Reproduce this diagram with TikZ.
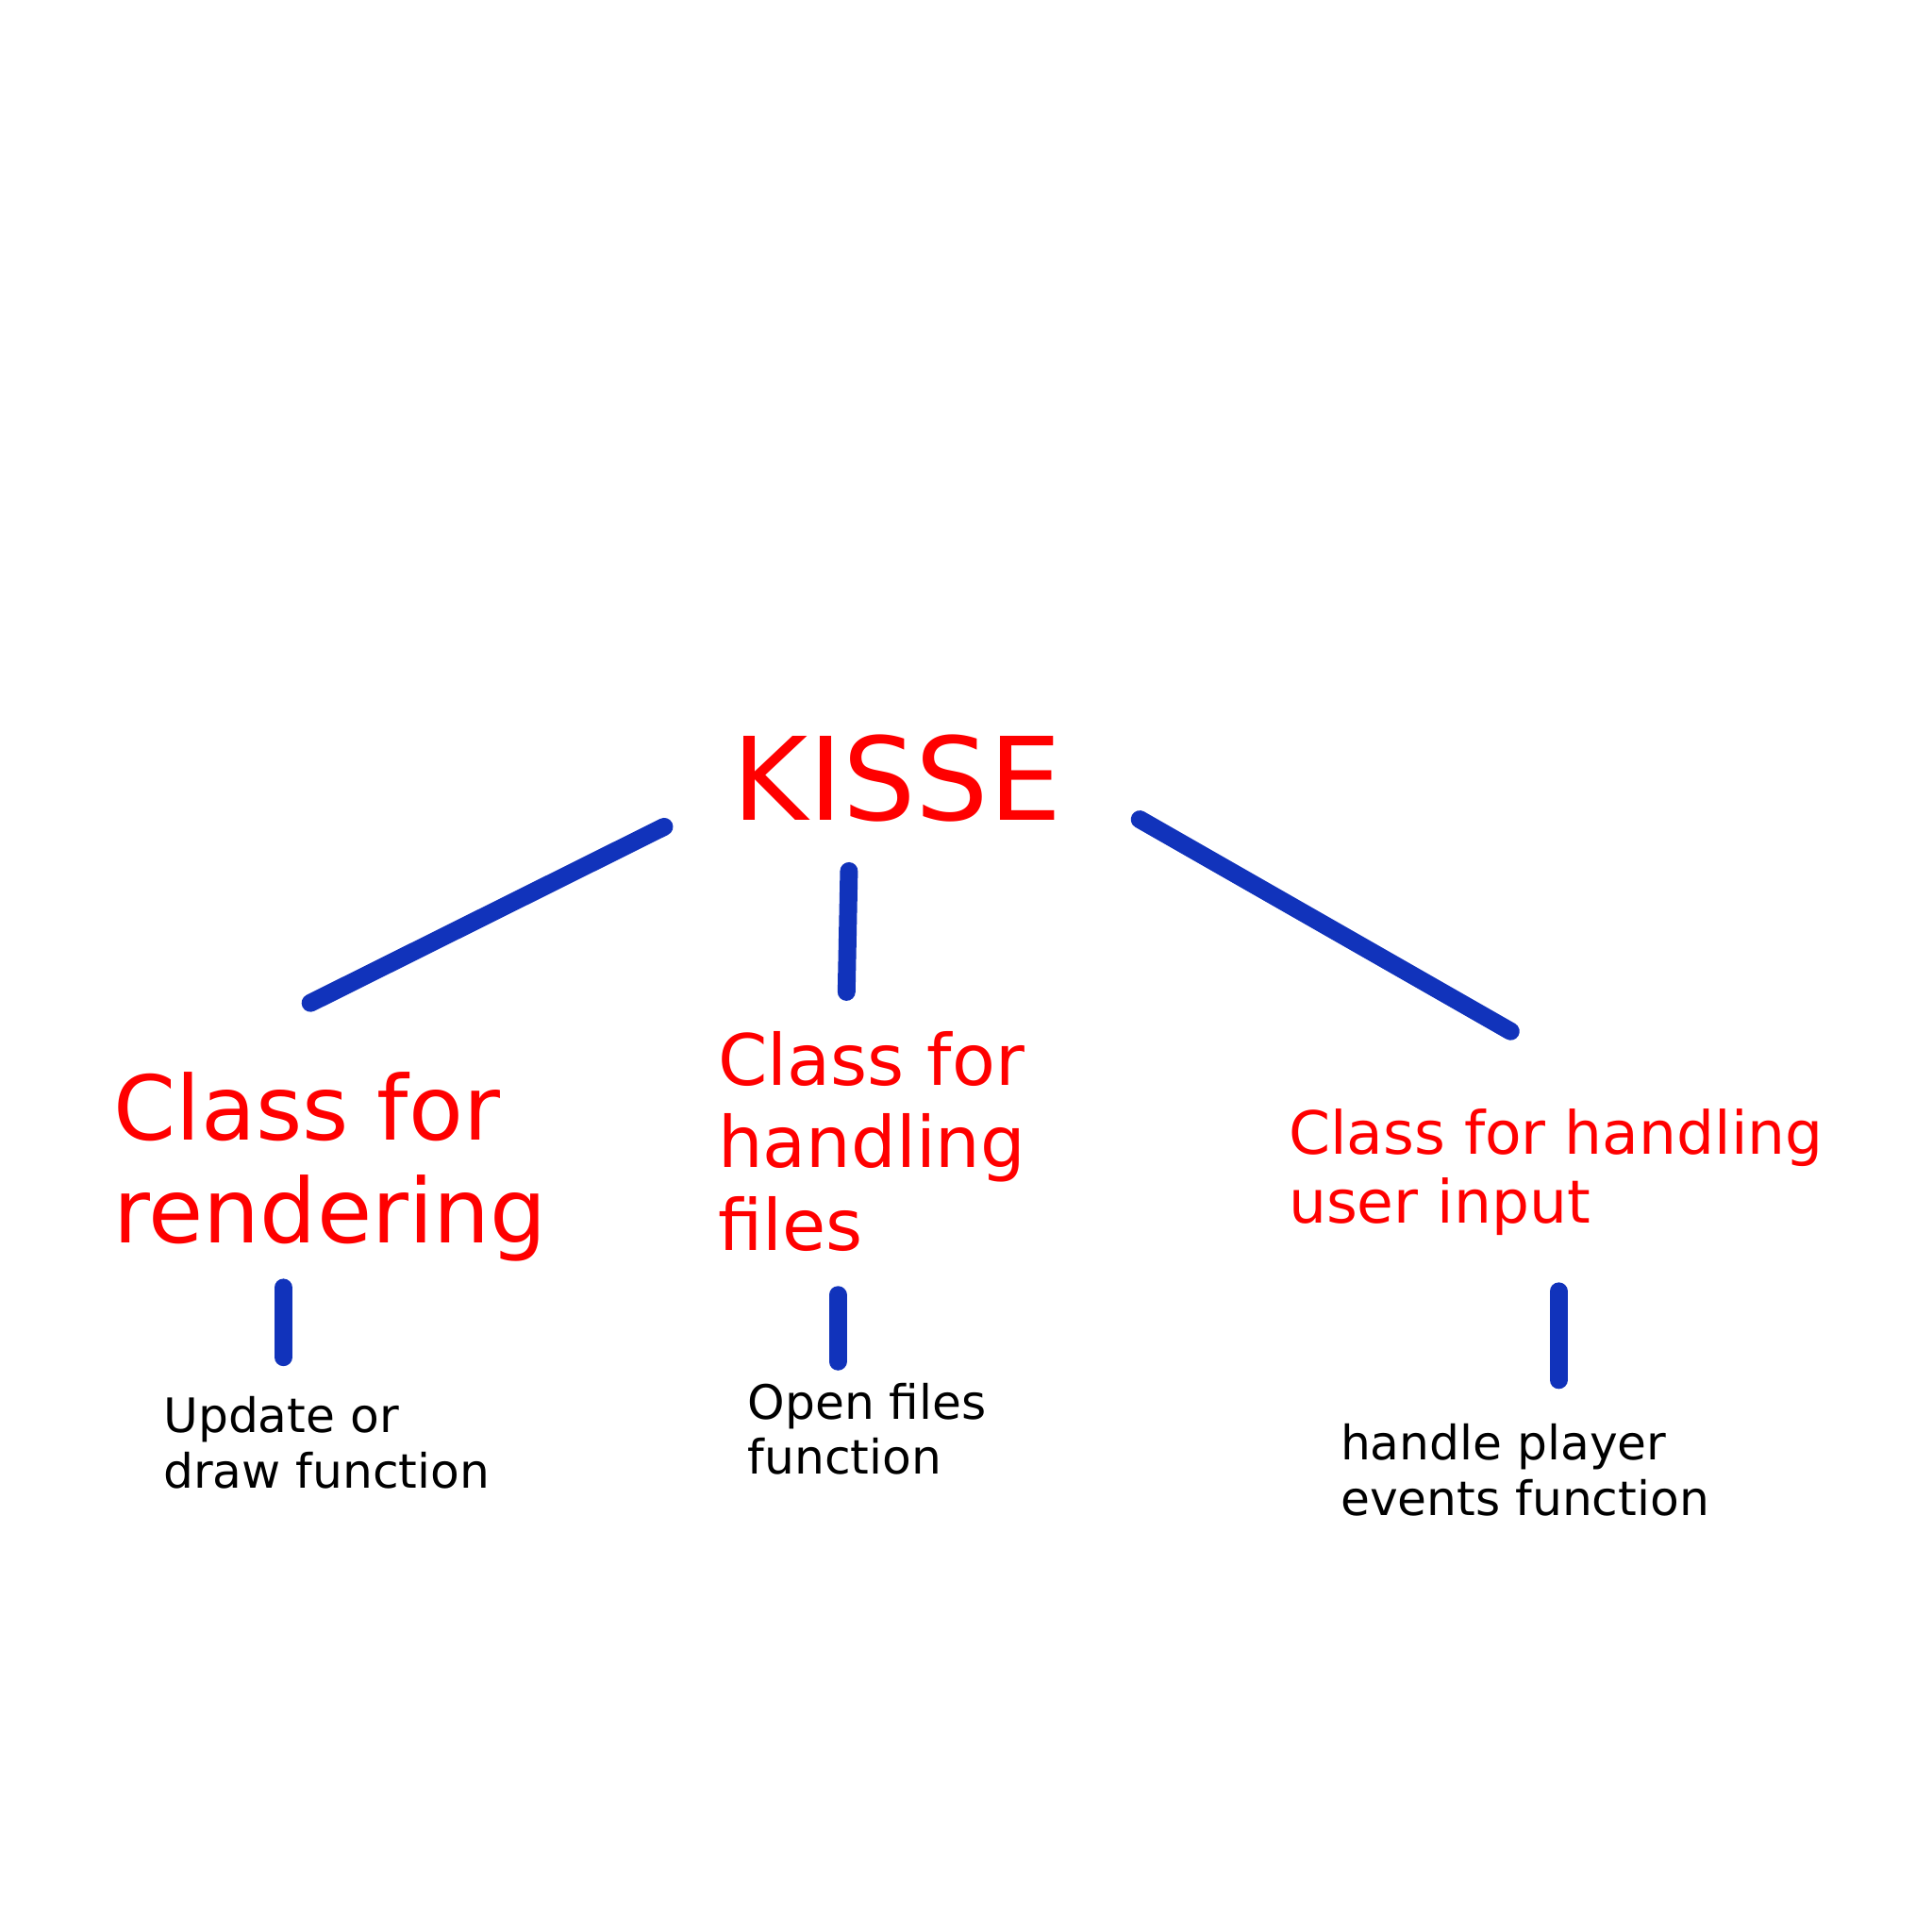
\documentclass[tikz,border=0pt]{standalone}
\usepackage{fontspec}
\newfontfamily\dejavu{DejaVu Sans}
\definecolor{penblue}{RGB}{17,51,187}
\definecolor{penred}{RGB}{255,0,0}
\tikzset{
  pen/.style={draw=penblue, line width=14.5pt, line cap=round, line join=round},
  lbl/.style={anchor=base west, inner sep=0pt, outer sep=0pt},
  big/.style={lbl, text=penred, font=\dejavu\fontsize{93.5}{109}\selectfont},
  clsA/.style={lbl, text=penred, font=\dejavu\fontsize{72.5}{84}\selectfont},
  clsB/.style={lbl, text=penred, font=\dejavu\fontsize{57.5}{67}\selectfont},
  clsC/.style={lbl, text=penred, font=\dejavu\fontsize{48.3}{56.4}\selectfont},
  fun/.style={lbl, text=black, font=\dejavu\fontsize{38.5}{45}\selectfont}
}
\begin{document}
\begin{tikzpicture}[x=1pt,y=-1pt]
\useasboundingbox[fill=white] (0,0) rectangle (1568,1568);
% texts
\node[big]  (kisse) at (594.8,665.6) {KISSE};
\node[clsA] (crend) at (92.4,925)  {\vtop{\hbox{Class for}\hbox{rendering}}};
\node[clsB] (cfile) at (582.8,880.5) {\vtop{\hbox{Class for}\hbox{handling}\hbox{files}}};
\node[clsC] (cinput) at (1045.9,936.6) {\vtop{\hbox{Class for handling}\hbox{user input}}};
\node[fun]  (frend) at (132.7,1162.5) {\vtop{\hbox{Update or}\hbox{draw function}}};
\node[fun]  (ffile) at (606.9,1151.6) {\vtop{\hbox{Open files}\hbox{function}}};
\node[fun]  (finput) at (1088,1185) {\vtop{\hbox{handle player}\hbox{events function}}};
% connector end points
\coordinate (l1a) at (539,671);
\coordinate (l1b) at (252,814);
\coordinate (l2a) at (689,707);
\coordinate (l2m) at (688,756);
\coordinate (l2b) at (687,805);
\coordinate (l3a) at (925,665);
\coordinate (l3b) at (1226,837);
\coordinate (v1a) at (230,1045);
\coordinate (v1b) at (230,1101.5);
\coordinate (v2a) at (680,1051);
\coordinate (v2b) at (680,1105);
\coordinate (v3a) at (1265,1048);
\coordinate (v3b) at (1265,1120);
% connectors
\draw[pen] (l1a) -- (l1b);
\draw[pen] (l2a) -- (l2m) -- (l2b);
\draw[pen] (l3a) -- (l3b);
\draw[pen] (v1a) -- (v1b);
\draw[pen] (v2a) -- (v2b);
\draw[pen] (v3a) -- (v3b);
\end{tikzpicture}
\end{document}
